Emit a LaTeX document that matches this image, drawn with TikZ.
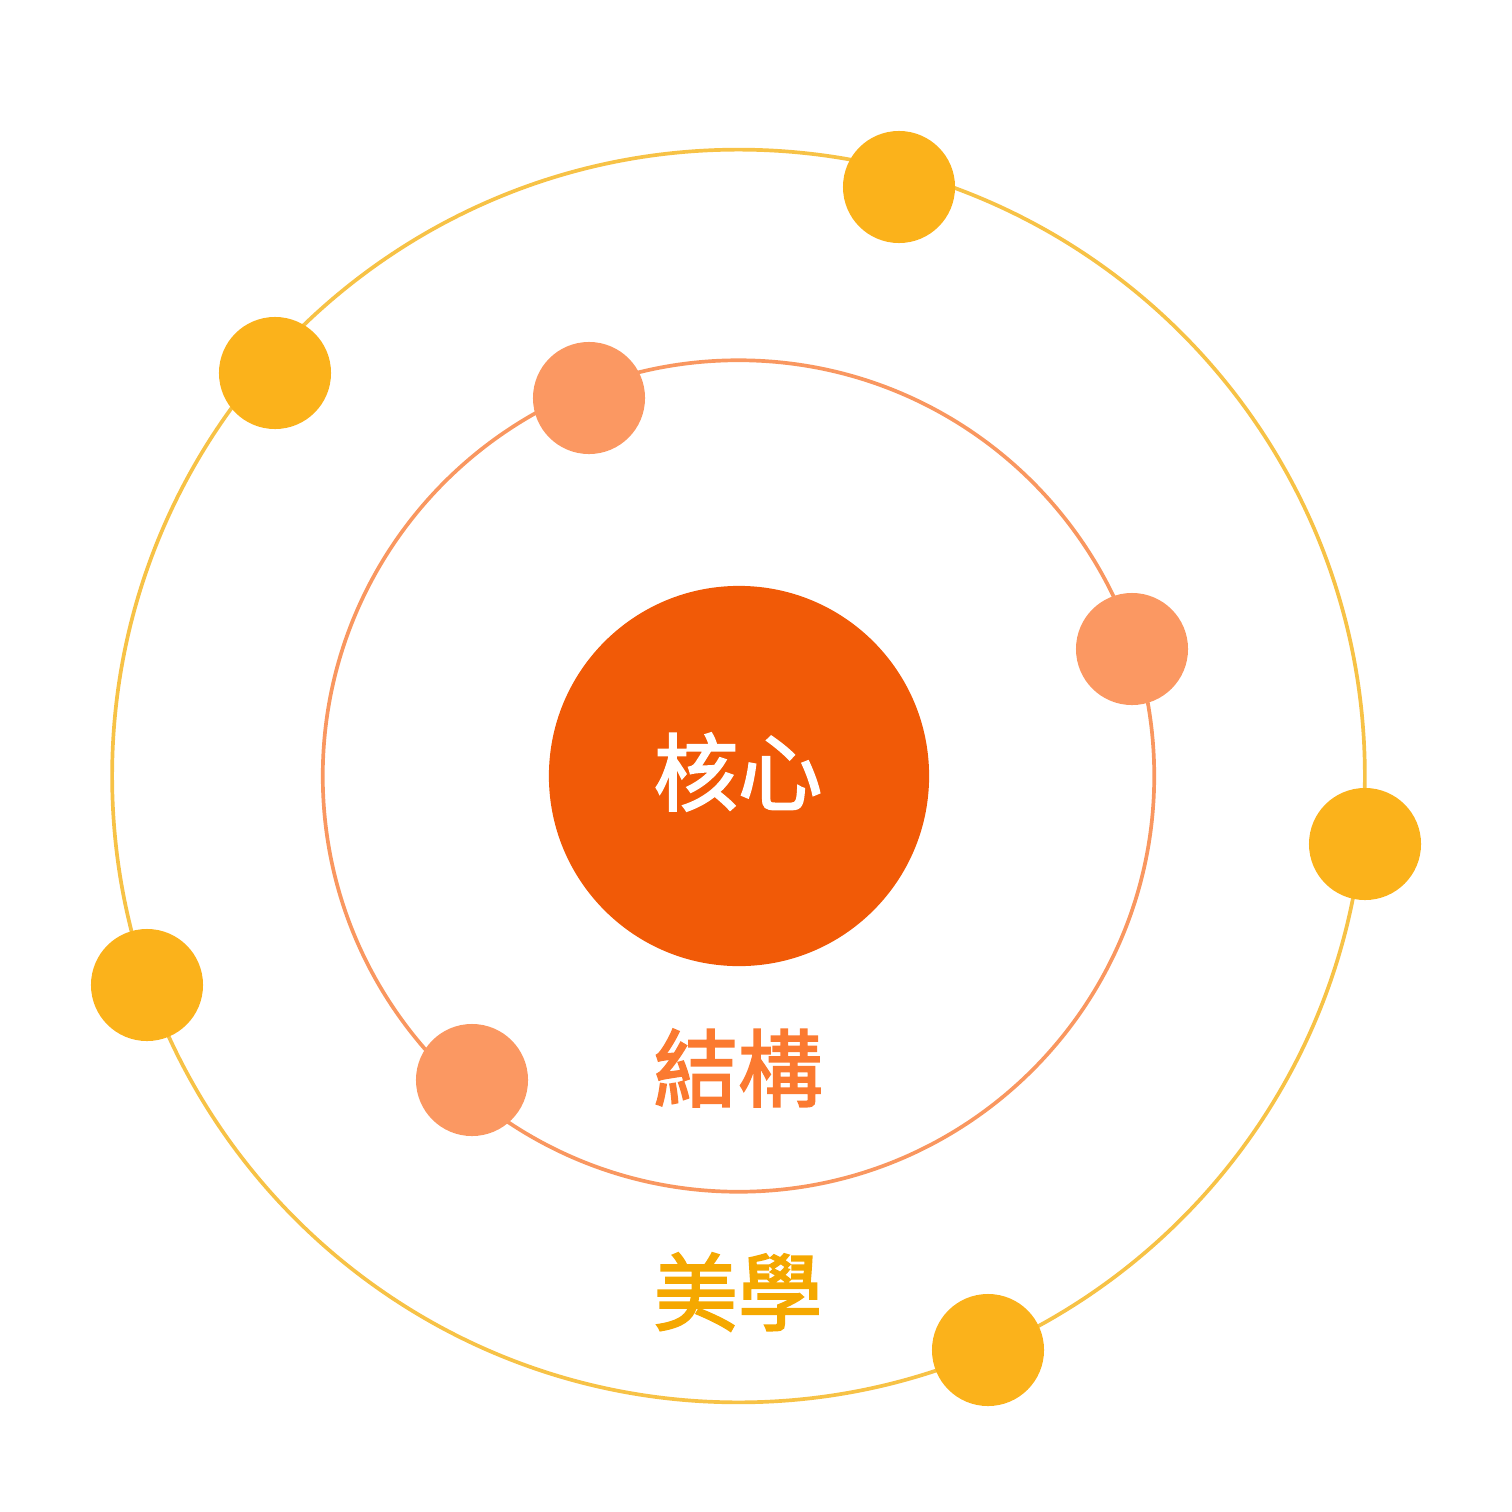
\documentclass[tikz,border=0pt]{standalone}
\usepackage{fontspec}
\newfontfamily\cjk[FakeBold=2.2]{Noto Sans CJK TC}
\definecolor{coreC}{HTML}{F15A07}
\definecolor{outerRing}{HTML}{F7C246}
\definecolor{innerRing}{HTML}{F99760}
\definecolor{outerDot}{HTML}{FBB21B}
\definecolor{innerDot}{HTML}{FB9862}
\definecolor{midText}{HTML}{FB7A30}
\definecolor{outText}{HTML}{F5A800}
\begin{document}
\begin{tikzpicture}[x=0.01cm,y=-0.01cm,
  ring/.style={draw,line width=1.05pt,fill=none},
  odot/.style={circle,fill=outerDot,minimum size=1.12cm,inner sep=0pt},
  idot/.style={circle,fill=innerDot,minimum size=1.12cm,inner sep=0pt},
  lbl/.style={font=\cjk\fontsize{24}{28}\selectfont,inner sep=0pt}]
\useasboundingbox (0,0) rectangle (1512,1512);
\coordinate (c) at (738.5,776);
\draw[ring,outerRing] (c) circle (6.26cm);
\draw[ring,innerRing] (c) circle (4.155cm);
\node[circle,fill=coreC,minimum size=3.8cm,inner sep=0pt] (core) at (739,776) {};
\node[lbl,text=white] (t1) at (738,772) {核心};
\node[lbl,text=midText] (t2) at (738,1068) {結構};
\node[lbl,text=outText] (t3) at (738,1292) {美學};
\node[odot] (o1) at (899,187) {};
\node[odot] (o2) at (275,373) {};
\node[odot] (o3) at (1365,844) {};
\node[odot] (o4) at (147,985) {};
\node[odot] (o5) at (988,1350) {};
\node[idot] (i1) at (589,398) {};
\node[idot] (i2) at (1132,649) {};
\node[idot] (i3) at (472,1080) {};
\end{tikzpicture}
\end{document}
